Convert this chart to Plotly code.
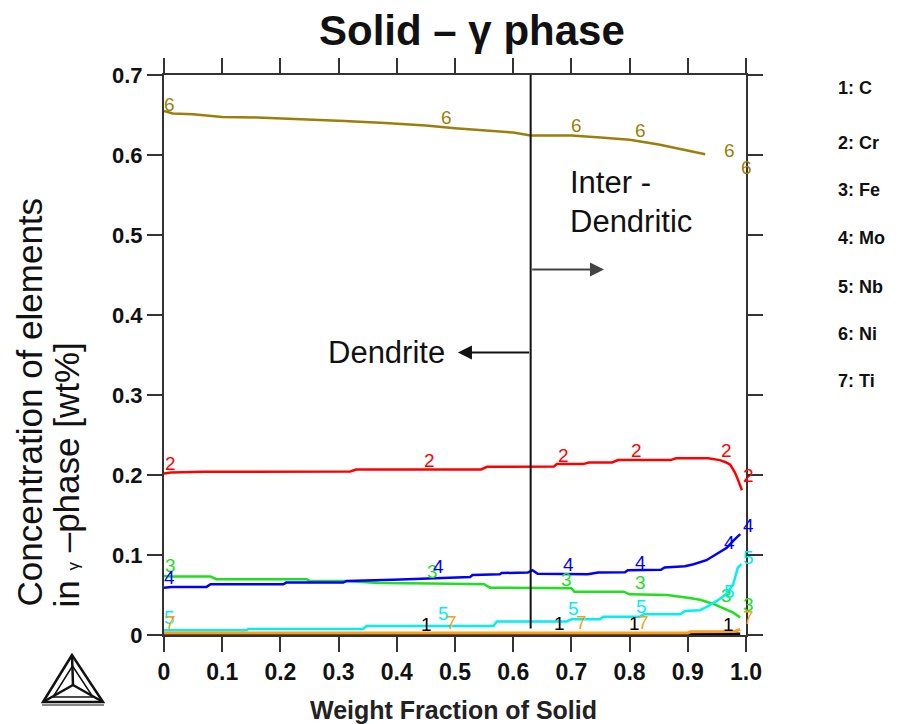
import plotly.graph_objects as go

# ---------------- data (weight fraction of solid vs. concentration) ----------------
C_x = [0.0, 0.25, 0.5, 0.75, 0.99]
C_y = [0.0012, 0.0012, 0.0012, 0.0012, 0.0015]

Cr_x = [0, 0.012, 0.07, 0.2, 0.32, 0.33, 0.45, 0.545, 0.555, 0.63, 0.67, 0.675, 0.72, 0.73,
        0.77, 0.78, 0.87, 0.88, 0.935, 0.955, 0.965, 0.973, 0.981, 0.987, 0.993]
Cr_y = [0.202, 0.203, 0.204, 0.2044, 0.2044, 0.2069, 0.207, 0.207, 0.2103, 0.2105, 0.2107, 0.2136,
        0.2136, 0.2157, 0.2157, 0.2186, 0.2186, 0.221, 0.221, 0.2186, 0.216, 0.2128, 0.203, 0.1927, 0.181]

Fe_x = [0, 0.01, 0.08, 0.09, 0.245, 0.25, 0.31, 0.37, 0.46, 0.55, 0.56, 0.63, 0.70, 0.705, 0.79,
        0.80, 0.864, 0.90, 0.921, 0.944, 0.961, 0.978, 0.99]
Fe_y = [0.0738, 0.0732, 0.0730, 0.0697, 0.0697, 0.0676, 0.0676, 0.065, 0.0645, 0.0634, 0.0592,
        0.0588, 0.0584, 0.0542, 0.0542, 0.0509, 0.0500, 0.0465, 0.044, 0.039, 0.034, 0.028, 0.022]

Mo_x = [0, 0.013, 0.073, 0.08, 0.205, 0.21, 0.308, 0.314, 0.394, 0.463, 0.526, 0.53, 0.577, 0.58,
        0.625, 0.633, 0.642, 0.728, 0.746, 0.792, 0.797, 0.854, 0.86, 0.895, 0.91, 0.932, 0.95,
        0.967, 0.978, 0.99]
Mo_y = [0.059, 0.0601, 0.0601, 0.0634, 0.0634, 0.0655, 0.0655, 0.0676, 0.0690, 0.0705, 0.0726,
        0.0750, 0.0760, 0.0775, 0.0780, 0.0810, 0.0765, 0.0760, 0.0780, 0.0785, 0.0810, 0.0815,
        0.0843, 0.0860, 0.0885, 0.0935, 0.101, 0.109, 0.1176, 0.126]

Nb_x = [0, 0.142, 0.145, 0.342, 0.348, 0.566, 0.572, 0.692, 0.70, 0.749, 0.755, 0.818, 0.825,
        0.887, 0.895, 0.921, 0.932, 0.95, 0.967, 0.978, 0.986, 0.992]
Nb_y = [0.0059, 0.0059, 0.0075, 0.0075, 0.0113, 0.0113, 0.0170, 0.0170, 0.0196, 0.0196, 0.0229,
        0.0229, 0.0259, 0.0259, 0.030, 0.031, 0.035, 0.0426, 0.0517, 0.0634, 0.0843, 0.0885]

Ni_x = [0, 0.015, 0.05, 0.1, 0.16, 0.24, 0.31, 0.38, 0.45, 0.5, 0.55, 0.6, 0.63, 0.7, 0.75,
        0.8, 0.85, 0.9, 0.93]
Ni_y = [0.655, 0.652, 0.651, 0.6475, 0.647, 0.645, 0.6425, 0.640, 0.637, 0.6335, 0.631, 0.628,
        0.6245, 0.6245, 0.622, 0.619, 0.613, 0.606, 0.601]

Ti_x = [0, 0.3, 0.6, 0.9, 0.905, 0.95, 0.98, 0.99]
Ti_y = [0.0025, 0.0025, 0.0025, 0.0025, 0.004, 0.0042, 0.0045, 0.007]

series_names = ["C", "Cr", "Fe", "Mo", "Nb", "Ni", "Ti"]
series_nums = ["1", "2", "3", "4", "5", "6", "7"]
series_x = [C_x, Cr_x, Fe_x, Mo_x, Nb_x, Ni_x, Ti_x]
series_y = [C_y, Cr_y, Fe_y, Mo_y, Nb_y, Ni_y, Ti_y]
colors = ["#000000", "#ff0000", "#1ee01e", "#0000ff", "#00f0f0", "#9b7f0a", "#ff9c1a"]

# curve number labels (x, y) for each element
label_pos = {
    "1": [(0.451, 0.0134), (0.68, 0.014), (0.809, 0.014), (0.97, 0.0134)],
    "2": [(0.0115, 0.2144), (0.457, 0.2186), (0.686, 0.224), (0.812, 0.230), (0.967, 0.231), (1.004, 0.199)],
    "3": [(0.0115, 0.0864), (0.462, 0.08), (0.692, 0.0697), (0.818, 0.0655), (0.967, 0.0488), (1.004, 0.0384)],
    "4": [(0.0103, 0.0717), (0.471, 0.0855), (0.695, 0.0885), (0.818, 0.0905), (0.972, 0.1155), (1.004, 0.1364)],
    "5": [(0.0103, 0.0216), (0.48, 0.0267), (0.703, 0.0334), (0.821, 0.036), (0.972, 0.055), (1.004, 0.0967)],
    "6": [(0.010, 0.663), (0.486, 0.647), (0.709, 0.637), (0.819, 0.630), (0.972, 0.606), (1.001, 0.584)],
    "7": [(0.0115, 0.0154), (0.494, 0.0154), (0.717, 0.0154), (0.824, 0.0154), (1.004, 0.0225)],
}

x_ticks = [0, 0.1, 0.2, 0.3, 0.4, 0.5, 0.6, 0.7, 0.8, 0.9, 1.0]
x_tick_text = ["0", "0.1", "0.2", "0.3", "0.4", "0.5", "0.6", "0.7", "0.8", "0.9", "1.0"]
y_ticks = [0, 0.1, 0.2, 0.3, 0.4, 0.5, 0.6, 0.7]
y_tick_text = ["0", "0.1", "0.2", "0.3", "0.4", "0.5", "0.6", "0.7"]

boundary_x = 0.63
X_RANGE = [0, 1]
Y_RANGE = [0, 0.7]

# ---------------- figure ----------------
# the page body has an 8px margin, so the figure is 8px smaller and everything is
# laid out in reference-pixel coordinates through px()/py()
OFF = 8
W, H = 908 - OFF, 724 - OFF
L, R, T, B = 164 - OFF, 162, 75 - OFF, 89
PW, PH = W - L - R, H - T - B


def px(xp):
    return (xp - OFF - L) / PW


def py(yp):
    return (H - B - (yp - OFF)) / PH


def dx(v):  # data x -> paper
    return (v - X_RANGE[0]) / (X_RANGE[1] - X_RANGE[0])


def dy(v):  # data y -> paper
    return (v - Y_RANGE[0]) / (Y_RANGE[1] - Y_RANGE[0])


FONT = "Liberation Sans, Arial, sans-serif"
fig = go.Figure()

for name, xs, ys, col in zip(series_names, series_x, series_y, colors):
    fig.add_trace(go.Scatter(x=xs, y=ys, mode="lines", name=name,
                             line=dict(color=col, width=3 if name == "Ti" else 2.5),
                             showlegend=False, hoverinfo="skip"))

annotations = []
for num, col in zip(series_nums, colors):
    for (lx, ly) in label_pos[num]:
        annotations.append(dict(x=dx(lx), y=dy(ly), xref="paper", yref="paper", text=num,
                                showarrow=False, font=dict(family=FONT, size=19, color=col),
                                xanchor="center", yanchor="middle"))

# legend list on the right
legend_y_px = [88, 143, 190, 238, 287, 334, 381]
for num, name, ypx in zip(series_nums, series_names, legend_y_px):
    annotations.append(dict(x=px(836), y=py(ypx), xref="paper", yref="paper",
                            text=f"{num}: {name}", showarrow=False, xanchor="left", yanchor="middle",
                            font=dict(family=FONT, size=18, color="#111", weight="bold")))

# title
annotations.append(dict(x=px(472), y=py(30), xref="paper", yref="paper", text="Solid – γ phase",
                        showarrow=False, xanchor="center", yanchor="middle",
                        font=dict(family=FONT, size=42, color="#111", weight="bold")))
# x-axis title
annotations.append(dict(x=px(453), y=py(710), xref="paper", yref="paper", text="Weight Fraction of Solid",
                        showarrow=False, xanchor="center", yanchor="middle",
                        font=dict(family=FONT, size=25, color="#222", weight="bold")))
# y-axis title (two lines)
annotations.append(dict(x=px(29), y=py(609), xref="paper", yref="paper", text="Concentration of elements",
                        showarrow=False, textangle=-90, xanchor="center", yanchor="bottom",
                        font=dict(family=FONT, size=35, color="#111")))
annotations.append(dict(x=px(66), y=py(609), xref="paper", yref="paper",
                        text="in <span style='font-size:17px'>γ</span> –phase [wt%]",
                        showarrow=False, textangle=-90, xanchor="center", yanchor="bottom",
                        font=dict(family=FONT, size=35, color="#111")))

# region labels and arrows
annotations.append(dict(x=0.486, y=0.353, xref="x", yref="y", text="Dendrite", showarrow=False,
                        xanchor="right", yanchor="middle", font=dict(family=FONT, size=31, color="#111")))
annotations.append(dict(x=0.694, y=0.5657, xref="x", yref="y", text="Inter -", showarrow=False,
                        xanchor="left", yanchor="middle", font=dict(family=FONT, size=31, color="#111")))
annotations.append(dict(x=0.694, y=0.517, xref="x", yref="y", text="Dendritic", showarrow=False,
                        xanchor="left", yanchor="middle", font=dict(family=FONT, size=31, color="#111")))
annotations.append(dict(x=0.505, y=0.353, xref="x", yref="y", ax=boundary_x, ay=0.353,
                        axref="x", ayref="y", text="", showarrow=True, arrowhead=2, arrowsize=1.4,
                        arrowwidth=2, arrowcolor="#111"))
annotations.append(dict(x=0.756, y=0.457, xref="x", yref="y", ax=boundary_x, ay=0.457,
                        axref="x", ayref="y", text="", showarrow=True, arrowhead=2, arrowsize=1.4,
                        arrowwidth=2, arrowcolor="#444"))

shapes = [
    dict(type="line", xref="x", yref="y", x0=boundary_x, x1=boundary_x, y0=0.008, y1=0.71,
         line=dict(color="#111", width=2)),
]

# Thermo-Calc style logo (bottom-left), reference pixel coordinates
ax_, ay_ = 72, 655
bl, br, by = 43, 103, 702
cx, cy = 73, 685
outer = f"M {px(ax_)} {py(ay_)} L {px(bl)} {py(by)} L {px(br)} {py(by)} Z"
inner = f"M {px(72.5)} {py(666)} L {px(53)} {py(697)} L {px(93)} {py(697)} Z"
shapes.append(dict(type="path", xref="paper", yref="paper", path=outer, line=dict(color="#111", width=2.5)))
shapes.append(dict(type="path", xref="paper", yref="paper", path=inner, line=dict(color="#111", width=1.5)))
for vx, vy in [(ax_, ay_), (bl, by), (br, by)]:
    shapes.append(dict(type="line", xref="paper", yref="paper", x0=px(cx), y0=py(cy), x1=px(vx), y1=py(vy),
                       line=dict(color="#111", width=2.5)))
shapes.append(dict(type="line", xref="paper", yref="paper", x0=px(42), y0=py(705), x1=px(104), y1=py(705),
                   line=dict(color="#888", width=2)))

axis_common = dict(showline=True, linewidth=2, linecolor="#333", mirror="ticks", ticks="outside",
                   ticklen=15, tickwidth=2, tickcolor="#333", showgrid=False, zeroline=False,
                   fixedrange=True)

fig.update_layout(
    width=W, height=H,
    margin=dict(l=L, r=R, t=T, b=B, autoexpand=False),
    paper_bgcolor="white", plot_bgcolor="white",
    xaxis=dict(range=X_RANGE, tickvals=x_ticks, ticktext=x_tick_text,
               tickfont=dict(family=FONT, size=23, color="#111", weight="bold"), **axis_common),
    yaxis=dict(range=Y_RANGE, tickvals=y_ticks, ticktext=y_tick_text,
               tickfont=dict(family=FONT, size=22, color="#111", weight="bold"), **axis_common),
    annotations=annotations,
    shapes=shapes,
    showlegend=False,
)

fig.write_html("out.html")
